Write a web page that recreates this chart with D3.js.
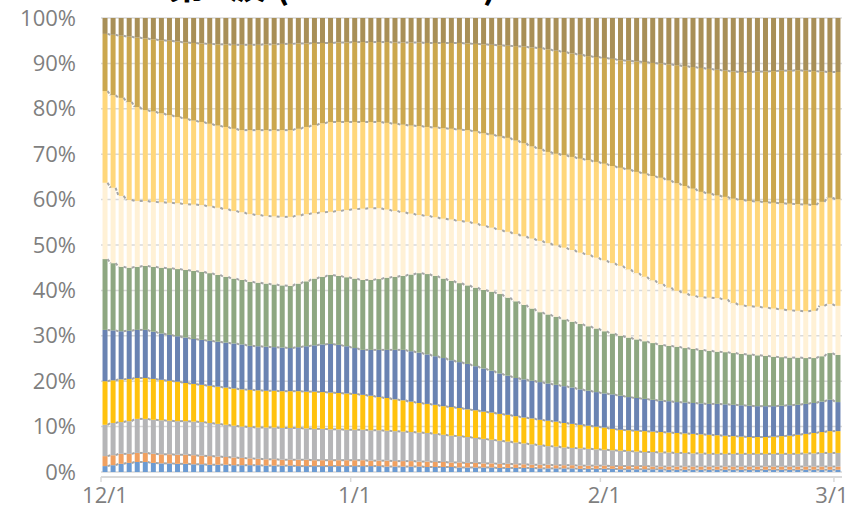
<!DOCTYPE html>
<html><head><meta charset="utf-8">
<script src="https://cdn.jsdelivr.net/npm/d3@7"></script>
<style>html,body{margin:0;padding:0;background:#fff;}svg{display:block;}</style>
</head><body>
<svg id="chart" width="852" height="518"></svg>
<script>
// daily categories 12/1 .. 3/1 (92 days)
const dayCount = 92;
const tickLabels = ["12/1","1/1","2/1","3/1"];
const tickIndex = [0,31,62,91];
const yTickLabels = ["0%","10%","20%","30%","40%","50%","60%","70%","80%","90%","100%"];
const seriesNames = ["10歳未満","10代","20代","30代","40代","50代","60代","70代","80代","90歳以上"];
const seriesColors = ["#6C9BD2","#F0A060","#B5B5B7","#FFC20E","#6A83B2","#8EA781","#FFF1D6","#FFD77B","#CBA74E","#A88F57"];

// share of each series per day (percent)
const s1 = [1.3,1.5,1.8,2.0,2.2,2.2,2.0,1.9,1.9,1.8, 1.8,1.7,1.7,1.6,1.6,1.6,1.5,1.5,1.5,1.5, 1.4,1.4,1.4,1.4,1.3,1.3,1.3,1.3,1.3,1.3, 1.3,1.3,1.3,1.3,1.3,1.2,1.2,1.2,1.2,1.2, 1.1,1.1,1.1,1.1,1.0,1.0,1.0,1.0,1.0,0.9, 0.9,0.9,0.9,0.9,0.8,0.8,0.8,0.8,0.8,0.7, 0.7,0.7,0.7,0.7,0.6,0.6,0.6,0.6,0.6,0.6, 0.5,0.5,0.5,0.5,0.5,0.5,0.5,0.5,0.5,0.5, 0.5,0.5,0.5,0.5,0.5,0.5,0.5,0.5,0.5,0.5,0.5,0.5];
const s2 = [2.2,2.2,2.2,2.0,2.0,2.0,2.0,2.0,2.0,2.0, 2.0,2.0,1.9,1.9,1.8,1.7,1.7,1.6,1.5,1.4, 1.4,1.4,1.3,1.3,1.4,1.4,1.3,1.3,1.3,1.3, 1.3,1.3,1.3,1.2,1.2,1.3,1.2,1.2,1.2,1.1, 1.2,1.1,1.1,1.0,1.1,1.0,1.0,0.9,0.9,0.9, 0.9,0.8,0.8,0.7,0.8,0.8,0.7,0.7,0.7,0.7, 0.7,0.7,0.7,0.6,0.7,0.7,0.7,0.7,0.6,0.6, 0.7,0.7,0.7,0.7,0.7,0.7,0.7,0.7,0.7,0.7, 0.7,0.7,0.7,0.7,0.7,0.7,0.7,0.7,0.7,0.7,0.7,0.7];
const s3 = [6.9,7.1,7.0,7.2,7.5,7.5,7.5,7.5,7.4,7.4, 7.4,7.4,7.4,7.3,7.2,7.1,7.0,6.9,6.9,6.9, 7.0,7.0,7.0,7.0,7.0,6.9,6.9,6.9,6.8,6.8, 6.7,6.7,6.7,6.7,6.7,6.6,6.6,6.5,6.4,6.4, 6.3,6.2,6.0,5.9,5.8,5.7,5.5,5.4,5.2,5.1, 4.9,4.8,4.6,4.5,4.3,4.1,4.1,3.9,3.8,3.8, 3.7,3.6,3.5,3.5,3.4,3.3,3.2,3.1,3.2,3.1, 3.1,3.0,3.0,2.9,2.9,2.8,2.8,2.8,2.8,2.8, 2.8,2.8,2.8,2.8,2.8,2.8,2.8,2.9,2.9,3.0,3.0,3.0];
const s4 = [9.6,9.4,9.4,9.3,9.0,9.0,9.0,8.9,8.8,8.7, 8.4,8.3,8.2,8.2,8.2,8.2,8.2,8.2,8.2,8.2, 8.1,8.1,8.1,8.1,8.1,8.1,8.2,8.1,8.1,8.0, 8.0,7.9,7.7,7.6,7.3,7.2,7.0,6.9,6.7,6.5, 6.4,6.4,6.3,6.3,6.2,6.1,6.1,6.0,6.0,5.9, 5.9,5.8,5.7,5.7,5.6,5.6,5.5,5.4,5.3,5.2, 5.1,5.0,4.9,4.7,4.6,4.6,4.6,4.6,4.5,4.5, 4.4,4.4,4.3,4.3,4.2,4.2,4.1,4.0,3.9,3.8, 3.7,3.7,3.7,3.8,3.9,4.0,4.2,4.3,4.5,4.6,4.8,4.8];
const s5 = [11.3,11.0,10.6,10.6,10.6,10.6,10.4,10.2,10.1,10.0, 10.0,9.9,9.9,9.9,9.9,9.9,9.9,9.9,9.7,9.7, 9.7,9.6,9.6,9.5,9.7,10.0,10.2,10.5,10.7,10.6, 10.4,10.1,9.9,10.1,10.4,10.6,10.9,11.1,11.1,11.1, 10.9,10.7,10.6,10.3,10.1,10.0,9.7,9.5,9.2,8.9, 8.6,8.4,8.4,8.3,8.3,8.2,8.1,8.1,8.0,7.8, 7.7,7.6,7.5,7.6,7.5,7.3,7.2,7.1,7.0,6.9, 6.9,6.8,6.8,6.8,6.8,6.8,6.9,6.9,6.9,6.9, 6.9,6.8,6.8,6.7,6.7,6.7,6.6,6.6,6.6,6.7,6.9,6.4];
const s6 = [15.6,14.8,14.2,13.9,13.9,14.1,14.3,14.5,14.7,14.8, 14.9,15.0,15.0,14.9,14.7,14.5,14.3,14.2,14.1,14.0, 13.9,13.8,13.7,13.7,14.0,14.3,14.7,14.9,15.2,15.2, 15.2,15.3,15.4,15.4,15.6,15.9,16.1,16.3,16.9,17.5, 17.7,17.7,17.5,17.5,17.4,17.3,17.3,17.3,17.4,17.5, 17.2,16.9,16.4,15.9,15.4,15.2,15.0,14.7,14.5,14.4, 14.2,14.0,13.7,13.4,13.2,13.1,12.9,12.7,12.5,12.3, 12.2,12.2,12.0,11.9,11.8,11.7,11.5,11.5,11.4,11.3, 11.3,11.2,11.1,10.9,10.7,10.5,10.4,10.1,9.9,10.0,10.3,10.4];
const s7 = [16.8,16.6,15.6,14.9,14.5,14.3,14.3,14.4,14.4,14.5, 14.5,14.6,14.7,14.7,14.8,14.9,14.9,14.9,14.9,14.9, 14.9,15.0,15.1,15.2,15.0,14.8,14.4,14.2,13.9,14.3, 14.8,15.3,15.7,15.8,15.6,15.0,14.5,14.0,13.4,12.8, 12.8,12.9,13.2,13.5,13.7,14.0,14.1,14.1,14.1,14.1, 14.5,14.8,15.1,15.4,15.7,15.7,15.7,15.8,15.8,15.7, 15.7,15.6,15.6,15.5,15.4,15.0,14.6,14.2,13.8,13.4, 12.8,12.3,12.0,11.7,11.6,11.7,11.8,11.6,11.0,10.7, 10.6,10.7,10.6,10.6,10.5,10.4,10.3,10.3,10.4,11.1,10.8,10.8];
const s8 = [20.2,20.4,21.6,21.6,20.7,20.0,19.9,19.6,19.3,19.0, 18.8,18.5,18.3,18.2,18.1,18.1,18.1,18.1,18.5,18.7, 18.9,19.0,19.1,19.1,19.1,19.2,19.4,19.6,19.8,19.6, 19.4,19.2,19.1,19.0,19.0,19.1,19.2,19.3,19.4,19.6, 19.6,19.8,19.9,20.0,20.1,20.2,20.3,20.4,20.5,20.6, 20.7,20.6,20.5,20.3,20.2,20.1,20.2,20.4,20.5,20.7, 20.9,21.1,21.3,21.4,21.6,22.0,22.3,22.7,23.0,23.4, 23.6,23.7,23.7,23.6,23.2,22.9,22.6,22.6,23.0,23.2, 23.2,23.2,23.2,23.3,23.4,23.5,23.5,23.5,23.3,22.9,23.4,23.5];
const s9 = [12.6,13.3,13.7,14.4,15.3,15.8,15.9,16.1,16.4,16.6, 16.8,17.1,17.3,17.6,17.9,18.2,18.5,18.8,18.8,18.8, 18.9,18.9,19.0,19.0,18.8,18.4,18.1,17.7,17.4,17.5, 17.5,17.6,17.6,17.6,17.6,17.8,17.9,18.1,18.3,18.4, 18.5,18.6,18.8,18.9,19.1,19.1,19.3,19.6,19.8,20.1, 20.3,20.8,21.3,21.8,22.3,22.6,22.7,22.7,22.8,22.9, 22.9,23.1,23.3,23.6,23.7,24.0,24.3,24.6,24.9,25.2, 25.6,26.0,26.4,26.8,27.3,27.5,27.7,27.8,28.0,28.2, 28.4,28.6,28.8,29.0,29.2,29.3,29.5,29.5,29.5,28.7,27.7,28.0];
const s10 = [3.5,3.7,3.9,4.1,4.3,4.5,4.7,4.9,5.0,5.2, 5.4,5.5,5.6,5.7,5.8,5.8,5.9,5.9,5.9,5.9, 5.8,5.8,5.7,5.7,5.6,5.6,5.5,5.5,5.5,5.4, 5.4,5.3,5.3,5.3,5.3,5.3,5.4,5.4,5.4,5.4, 5.5,5.5,5.5,5.5,5.5,5.6,5.7,5.8,5.9,6.0, 6.1,6.2,6.3,6.5,6.6,6.9,7.2,7.5,7.8,8.1, 8.4,8.6,8.8,9.0,9.3,9.4,9.6,9.7,9.9,10.0, 10.2,10.4,10.6,10.8,11.0,11.2,11.4,11.6,11.8,11.9, 11.9,11.8,11.8,11.7,11.6,11.6,11.5,11.6,11.7,11.8,11.9,11.9];

const seriesValues = [s1,s2,s3,s4,s5,s6,s7,s8,s9,s10];
const rows = d3.range(dayCount).map(i => {
  const r = {i};
  seriesNames.forEach((n, k) => { r[n] = seriesValues[k][i]; });
  return r;
});

const svg = d3.select("#chart");
const x = d3.scaleBand().domain(d3.range(dayCount)).range([101, 842]).paddingInner(0.38).paddingOuter(0.19);
const y = d3.scaleLinear().domain([0, 1]).range([472, 18]);
const yTickValues = yTickLabels.map((d, j) => j / 10);

// title (cut off at the top as in the original)
svg.append("text").attr("x", 168).attr("y", -2)
  .attr("font-family", "'Noto Sans CJK JP', sans-serif").attr("font-weight", "bold")
  .attr("font-size", 38).attr("fill", "#000").text("第8波 (2022-2023)");

// gridlines
svg.append("g").selectAll("line").data(yTickValues).join("line")
  .attr("x1", 101).attr("x2", 842).attr("y1", d => y(d)).attr("y2", d => y(d))
  .attr("stroke", "#D9D9D9").attr("stroke-width", 1.5);

// y axis labels
const yAxis = d3.axisLeft(y).tickValues(yTickValues).tickFormat((d, j) => yTickLabels[j]).tickSize(0).tickPadding(0);
const gy = svg.append("g").attr("transform", "translate(76,0)").call(yAxis);
gy.select(".domain").remove();
gy.selectAll("text").attr("font-family", "'Open Sans', sans-serif").attr("font-size", 22).attr("fill", "#7F7F7F");

// bars (100% stacked)
const stack = d3.stack().keys(seriesNames).offset(d3.stackOffsetExpand)(rows);
svg.append("g").selectAll("g").data(stack).join("g")
  .attr("fill", (d, k) => seriesColors[k])
  .selectAll("rect").data(d => d).join("rect")
  .attr("x", d => x(d.data.i)).attr("width", x.bandwidth())
  .attr("y", d => y(d[1])).attr("height", d => y(d[0]) - y(d[1]));

// series lines between neighbouring bars
const segs = [];
stack.slice(0, 9).forEach(s => {
  for (let i = 0; i < dayCount - 1; i++) segs.push([s[i], s[i + 1]]);
});
svg.append("g").selectAll("line").data(segs).join("line")
  .attr("x1", d => x(d[0].data.i) + x.bandwidth()).attr("y1", d => y(d[0][1]))
  .attr("x2", d => x(d[1].data.i)).attr("y2", d => y(d[1][1]))
  .attr("stroke", "#A6A6A6").attr("stroke-width", 2).attr("stroke-dasharray", "3,1.5");

// x axis
svg.append("line").attr("x1", 101).attr("x2", 842).attr("y1", 477).attr("y2", 477)
  .attr("stroke", "#D9D9D9").attr("stroke-width", 2);
const xAxis = d3.axisBottom(x).tickValues(tickIndex).tickFormat((d, j) => tickLabels[j]).tickSize(0).tickPadding(0);
const gx = svg.append("g").attr("transform", "translate(0,496)").call(xAxis);
gx.select(".domain").remove();
gx.selectAll("text").attr("font-family", "'Open Sans', sans-serif").attr("font-size", 22).attr("fill", "#7F7F7F")
  .attr("dy", "0.32em").attr("dx", (d, j) => j === tickIndex.length - 1 ? -6 : 0);
svg.append("g").selectAll("line").data(tickIndex).join("line")
  .attr("x1", d => x(d) - x.step() * x.paddingInner() / 2).attr("x2", d => x(d) - x.step() * x.paddingInner() / 2)
  .attr("y1", 477).attr("y2", 482).attr("stroke", "#D9D9D9").attr("stroke-width", 1.5);
</script>
</body></html>
